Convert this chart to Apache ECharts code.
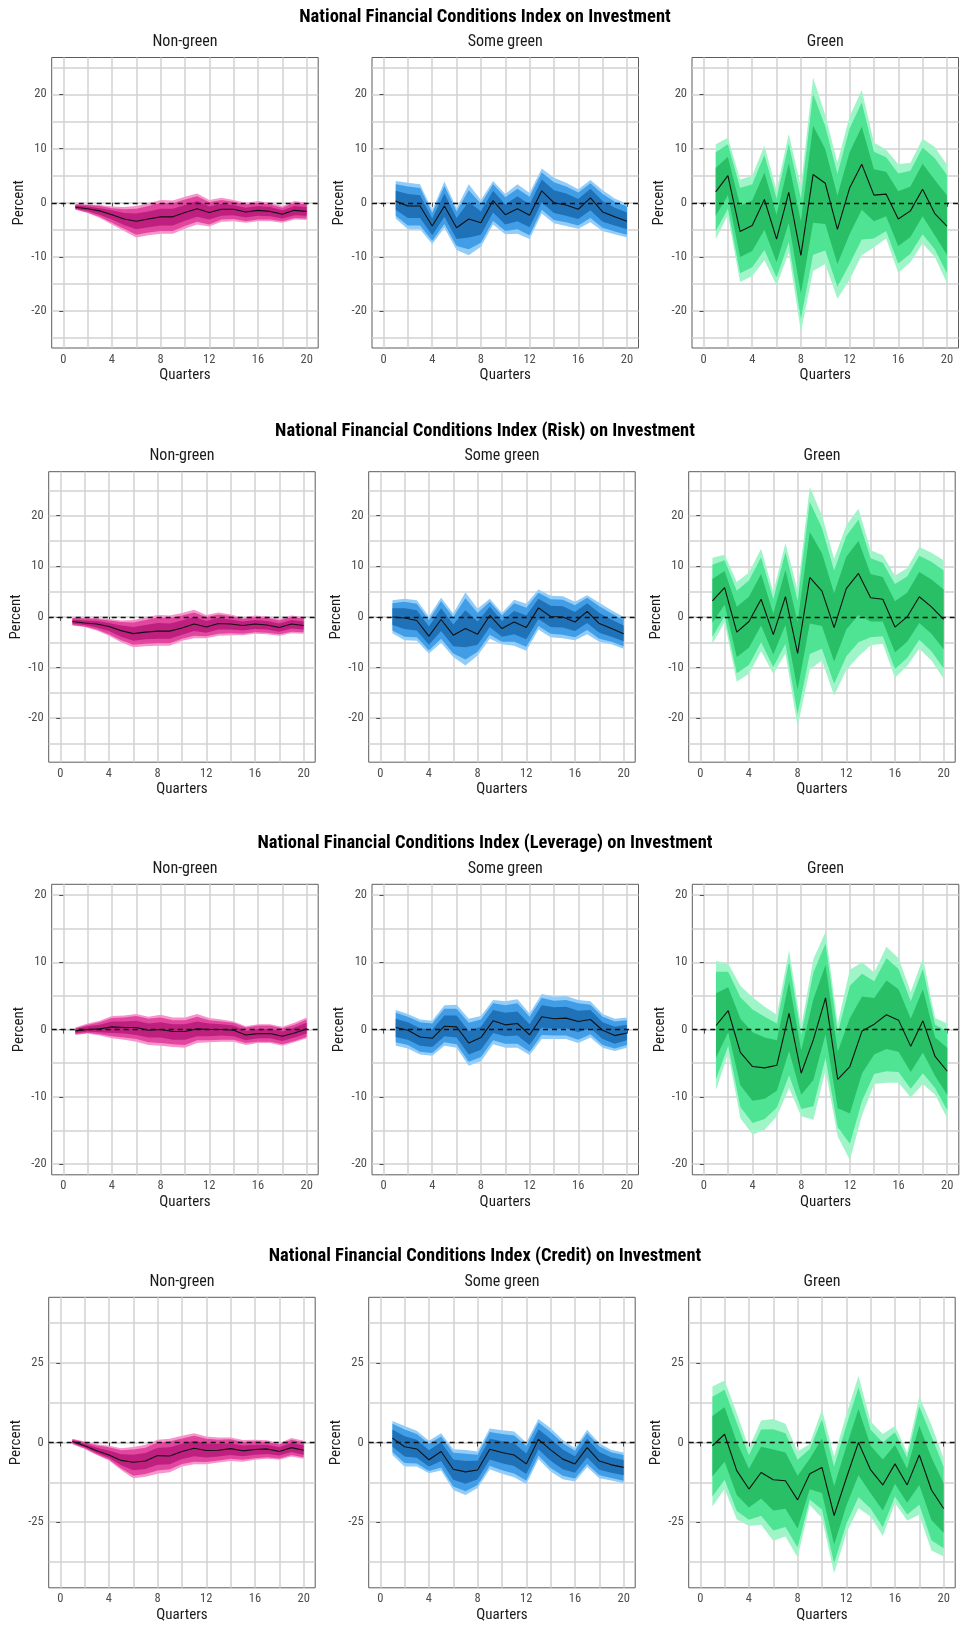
<!DOCTYPE html>
<html>
<head>
<meta charset="utf-8">
<title>NFCI on Investment</title>
<script src="https://cdn.jsdelivr.net/npm/echarts@6.0.0/dist/echarts.min.js"></script>
<style>
  html, body { margin: 0; padding: 0; background: #fff; }
  #main { width: 965px; height: 1625px; }
</style>
</head>
<body>
<div id="main"></div>
<script>
// ---- data ----
const quarters = [1, 2, 3, 4, 5, 6, 7, 8, 9, 10, 11, 12, 13, 14, 15, 16, 17, 18, 19, 20];
const xTicks = [0, 4, 8, 12, 16, 20];
const xGridLines = [0, 2, 4, 6, 8, 10, 12, 14, 16, 18, 20];
const rowTitles = [
  'National Financial Conditions Index on Investment',
  'National Financial Conditions Index (Risk) on Investment',
  'National Financial Conditions Index (Leverage) on Investment',
  'National Financial Conditions Index (Credit) on Investment'
];
const groupNames = ['Non-green', 'Some green', 'Green'];
const yTicksByRow = [[-20, -10, 0, 10, 20], [-20, -10, 0, 10, 20], [-20, -10, 0, 10, 20], [-25, 0, 25]];
const yGridByRow = [
  [-25, -20, -15, -10, -5, 0, 5, 10, 15, 20, 25],
  [-25, -20, -15, -10, -5, 0, 5, 10, 15, 20, 25],
  [-20, -15, -10, -5, 0, 5, 10, 15, 20],
  [-37.5, -25, -12.5, 0, 12.5, 25, 37.5]
];
const yLimitByRow = [26.8, 28.7, 21.6, 45.6];

// NFCI
const nfciNgMed  = [-0.8,-1.1,-1.5,-2.2,-3.0,-3.4,-3.0,-2.6,-2.6,-1.8,-1.1,-1.8,-1.2,-1.2,-1.7,-1.4,-1.6,-2.1,-1.4,-1.6];
const nfciNgLo95 = [-1.3,-1.9,-2.8,-4.0,-5.2,-6.4,-6.0,-5.7,-5.7,-4.8,-4.0,-4.4,-3.5,-3.4,-3.7,-3.4,-3.4,-3.7,-3.1,-3.2];
const nfciNgHi95 = [-0.2,-0.3,-0.4,-0.7,-0.8,-0.6,-0.1,0.5,0.4,1.1,1.7,0.5,0.9,0.5,0.0,0.3,0.0,-0.6,0.3,0.0];
const nfciNgLo90 = [-1.2,-1.8,-2.6,-3.7,-4.8,-5.9,-5.5,-5.2,-5.2,-4.3,-3.5,-4.0,-3.1,-3.0,-3.4,-3.1,-3.1,-3.4,-2.8,-2.9];
const nfciNgHi90 = [-0.3,-0.4,-0.6,-1.0,-1.2,-1.1,-0.6,0.0,-0.1,0.6,1.2,0.1,0.5,0.2,-0.3,0.0,-0.3,-0.9,0.0,-0.3];
const nfciNgLo68 = [-1.1,-1.5,-2.2,-3.1,-4.1,-4.9,-4.5,-4.2,-4.2,-3.3,-2.6,-3.1,-2.4,-2.3,-2.7,-2.4,-2.5,-2.9,-2.3,-2.4];
const nfciNgHi68 = [-0.5,-0.7,-1.0,-1.4,-1.9,-2.0,-1.6,-1.1,-1.1,-0.4,0.3,-0.7,-0.2,-0.4,-0.9,-0.6,-0.8,-1.4,-0.6,-0.8];

const nfciSgMed  = [0.3,-0.6,-0.6,-4.3,-0.6,-4.6,-3.0,-3.7,0.4,-2.2,-1.1,-2.3,2.2,0.0,-0.4,-1.2,0.9,-1.7,-2.6,-3.4];
const nfciSgLo95 = [-2.9,-4.9,-4.9,-7.6,-4.6,-8.7,-9.7,-8.1,-4.0,-5.8,-5.7,-6.7,-2.0,-3.8,-4.3,-4.8,-3.6,-5.2,-5.8,-6.4];
const nfciSgHi95 = [4.0,3.7,3.4,-1.4,3.9,-1.0,3.4,0.5,4.0,1.6,3.4,1.8,6.3,4.6,3.7,2.5,4.2,2.3,0.8,-0.2];
const nfciSgLo90 = [-2.4,-4.2,-4.2,-7.0,-3.9,-8.0,-8.6,-7.4,-3.3,-5.2,-4.9,-6.0,-1.3,-3.2,-3.6,-4.2,-2.8,-4.6,-5.3,-5.9];
const nfciSgHi90 = [3.4,3.0,2.7,-1.9,3.1,-1.6,2.3,-0.2,3.4,1.0,2.6,1.1,5.6,3.8,3.0,1.9,3.6,1.6,0.2,-0.7];
const nfciSgLo68 = [-1.3,-2.8,-2.8,-6.0,-2.6,-6.7,-6.4,-5.9,-1.8,-4.0,-3.4,-4.5,0.1,-1.9,-2.4,-3.0,-1.4,-3.5,-4.2,-4.9];
const nfciSgHi68 = [2.2,1.6,1.4,-2.9,1.7,-2.8,0.2,-1.6,2.2,-0.3,1.2,-0.3,4.3,2.3,1.7,0.7,2.6,0.3,-0.9,-1.8];

const nfciGrMed  = [2.0,5.0,-5.3,-4.2,0.6,-6.7,1.9,-9.7,5.2,3.6,-4.9,2.7,7.1,1.4,1.6,-3.0,-1.5,2.5,-2.0,-4.3];
const nfciGrLo95 = [-6.7,-2.3,-14.6,-13.5,-10.6,-15.2,-9.2,-23.8,-12.6,-11.3,-17.7,-14.2,-9.7,-8.2,-6.6,-12.9,-11.0,-7.5,-10.0,-14.8];
const nfciGrHi95 = [10.8,12.0,4.3,5.0,10.5,2.3,12.7,3.0,23.1,16.2,7.4,15.9,20.8,11.1,9.8,7.1,7.4,11.8,10.3,7.0];
const nfciGrLo90 = [-5.2,-1.1,-13.0,-11.9,-8.7,-13.8,-7.3,-21.4,-9.6,-8.8,-15.5,-11.3,-6.8,-6.6,-5.2,-11.2,-9.4,-5.8,-8.6,-13.0];
const nfciGrHi90 = [9.3,10.8,2.7,3.4,8.8,0.8,10.9,0.8,20.1,14.1,5.3,13.7,18.5,9.4,8.4,5.4,5.9,10.2,8.2,5.1];
const nfciGrLo68 = [-2.4,1.4,-10.0,-8.9,-5.0,-11.0,-3.7,-16.8,-3.7,-3.9,-11.3,-5.8,-1.3,-3.4,-2.5,-8.0,-6.3,-2.5,-6.0,-9.6];
const nfciGrHi68 = [6.4,8.5,-0.5,0.4,5.6,-2.2,7.3,-3.4,14.2,9.9,1.3,9.3,14.0,6.2,5.7,2.1,3.0,7.2,4.2,1.4];

// NFCI (Risk)
const riskNgMed  = [-0.9,-1.2,-1.4,-1.9,-2.7,-3.3,-3.0,-2.8,-2.8,-2.2,-1.4,-2.0,-1.3,-1.4,-1.7,-1.4,-1.6,-2.1,-1.4,-1.7];
const riskNgLo95 = [-1.7,-2.0,-2.7,-3.7,-5.0,-6.0,-5.8,-5.7,-5.7,-4.7,-4.2,-4.2,-3.7,-3.6,-3.6,-3.3,-3.4,-3.7,-3.2,-3.3];
const riskNgHi95 = [-0.1,-0.1,-0.2,-0.4,-0.7,-0.6,-0.1,0.4,0.3,0.8,1.4,0.4,0.9,0.5,-0.1,0.3,0.1,-0.4,0.3,0.0];
const riskNgLo90 = [-1.6,-1.9,-2.5,-3.4,-4.6,-5.5,-5.3,-5.2,-5.2,-4.3,-3.7,-3.8,-3.3,-3.2,-3.3,-3.0,-3.1,-3.4,-2.9,-3.0];
const riskNgHi90 = [-0.2,-0.3,-0.4,-0.7,-1.0,-1.1,-0.6,-0.1,-0.2,0.3,0.9,0.0,0.5,0.2,-0.4,0.0,-0.2,-0.7,0.0,-0.3];
const riskNgLo68 = [-1.3,-1.6,-2.1,-2.8,-3.9,-4.7,-4.4,-4.3,-4.3,-3.5,-2.8,-3.1,-2.5,-2.5,-2.7,-2.4,-2.5,-2.9,-2.3,-2.5];
const riskNgHi68 = [-0.5,-0.7,-0.8,-1.2,-1.7,-2.0,-1.6,-1.2,-1.3,-0.7,0.0,-0.8,-0.2,-0.5,-0.9,-0.6,-0.8,-1.3,-0.6,-0.9];

const riskSgMed  = [0.0,-0.2,-0.7,-3.8,-0.5,-3.6,-2.3,-3.4,0.3,-2.3,-1.0,-2.1,1.8,0.1,0.0,-1.0,1.1,-1.3,-2.3,-3.3];
const riskSgLo95 = [-3.2,-4.6,-4.7,-7.2,-5.1,-7.9,-9.6,-7.6,-4.3,-5.4,-5.7,-6.7,-2.5,-4.0,-4.2,-4.6,-3.4,-4.9,-5.4,-6.3];
const riskSgHi95 = [3.3,3.6,3.3,0.1,3.8,0.7,4.9,1.6,3.6,0.8,3.4,2.6,5.4,4.2,4.1,3.0,4.3,2.8,1.3,0.0];
const riskSgLo90 = [-2.7,-3.9,-4.0,-6.6,-4.3,-7.2,-8.4,-6.9,-3.5,-4.9,-4.9,-5.9,-1.8,-3.3,-3.5,-4.0,-2.6,-4.3,-4.9,-5.8];
const riskSgHi90 = [2.7,3.0,2.6,-0.6,3.1,0.0,3.7,0.8,3.0,0.3,2.7,1.8,4.8,3.5,3.4,2.3,3.8,2.1,0.7,-0.6];
const riskSgLo68 = [-1.6,-2.4,-2.7,-5.5,-2.8,-5.8,-6.0,-5.5,-2.0,-3.9,-3.4,-4.4,-0.4,-2.0,-2.1,-2.8,-1.2,-3.1,-3.9,-4.8];
const riskSgHi68 = [1.7,1.7,1.3,-1.9,1.7,-1.5,1.3,-0.9,2.0,-0.8,1.2,0.3,3.6,2.2,2.1,1.0,2.7,0.8,-0.5,-1.7];

const riskGrMed  = [3.2,5.8,-3.0,-0.9,3.5,-3.5,4.0,-7.2,7.8,5.1,-2.1,5.6,8.6,3.8,3.5,-2.0,0.0,4.0,2.0,-0.5];
const riskGrLo95 = [-5.3,-1.0,-12.8,-11.2,-6.8,-11.2,-7.2,-21.6,-10.4,-8.6,-15.5,-10.5,-7.8,-5.6,-5.3,-12.0,-9.7,-6.3,-8.6,-12.2];
const riskGrHi95 = [11.7,12.3,6.9,8.8,13.5,4.9,14.6,5.3,25.7,20.1,11.5,18.1,21.4,13.2,12.2,8.2,9.6,13.8,12.7,11.2];
const riskGrLo90 = [-3.9,0.2,-11.1,-9.5,-5.0,-9.9,-5.3,-19.2,-7.3,-6.3,-13.2,-7.8,-5.0,-4.0,-3.8,-10.3,-8.1,-4.5,-6.8,-10.2];
const riskGrHi90 = [10.3,11.2,5.2,7.2,11.8,3.5,12.8,3.2,22.7,17.6,9.2,16.0,19.2,11.6,10.7,6.5,8.0,12.1,10.9,9.2];
const riskGrLo68 = [-1.1,2.4,-7.9,-6.1,-1.7,-7.4,-1.6,-14.4,-1.3,-1.8,-8.8,-2.5,0.4,-0.9,-0.9,-7.0,-4.9,-1.2,-3.3,-6.4];
const riskGrHi68 = [7.5,9.1,2.0,4.0,8.5,0.7,9.3,-1.0,16.8,12.6,4.7,11.9,15.0,8.5,7.9,3.1,4.8,8.9,7.4,5.4];

// NFCI (Leverage)
const levNgMed  = [-0.2,0.0,0.1,0.4,0.3,0.3,-0.1,0.0,-0.3,-0.3,0.1,0.0,0.0,-0.1,-0.8,-0.6,-0.6,-1.0,-0.5,0.1];
const levNgLo95 = [-0.8,-0.6,-0.9,-1.3,-1.5,-1.8,-2.3,-2.4,-2.6,-2.7,-2.0,-1.9,-1.8,-1.8,-2.3,-2.0,-2.0,-2.4,-1.9,-1.3];
const levNgHi95 = [0.3,0.9,1.3,2.0,2.1,2.3,1.9,2.2,1.8,1.8,2.3,1.7,1.5,1.2,0.5,0.8,0.8,0.4,1.0,1.8];
const levNgLo90 = [-0.7,-0.5,-0.7,-1.0,-1.2,-1.4,-1.9,-2.0,-2.2,-2.3,-1.6,-1.6,-1.5,-1.5,-2.0,-1.8,-1.8,-2.2,-1.7,-1.1];
const levNgHi90 = [0.2,0.7,1.1,1.7,1.8,2.0,1.6,1.8,1.4,1.4,1.9,1.4,1.2,1.0,0.3,0.6,0.6,0.2,0.7,1.5];
const levNgLo68 = [-0.5,-0.3,-0.4,-0.5,-0.6,-0.8,-1.2,-1.2,-1.5,-1.5,-1.0,-1.0,-0.9,-1.0,-1.6,-1.3,-1.3,-1.7,-1.2,-0.6];
const levNgHi68 = [0.1,0.5,0.7,1.2,1.2,1.3,0.9,1.1,0.8,0.8,1.2,0.9,0.8,0.6,-0.2,0.1,0.1,-0.3,0.3,1.0];

const levSgMed  = [0.3,-0.1,-1.1,-1.3,0.5,0.4,-2.0,-1.2,1.3,0.7,0.9,-0.8,1.9,1.6,1.7,1.2,1.5,-0.1,-0.9,-0.5];
const levSgLo95 = [-2.4,-2.8,-3.7,-3.9,-2.4,-2.7,-5.4,-4.7,-2.2,-2.7,-2.7,-3.8,-1.4,-1.4,-1.4,-2.0,-1.2,-2.7,-3.2,-2.7];
const levSgHi95 = [2.9,2.3,1.5,1.3,3.6,3.7,1.6,2.0,4.4,4.2,4.5,2.4,5.3,4.9,5.0,4.4,4.2,2.3,1.6,1.8];
const levSgLo90 = [-1.9,-2.3,-3.3,-3.5,-1.9,-2.2,-4.8,-4.1,-1.6,-2.1,-2.1,-3.3,-0.8,-0.9,-0.9,-1.5,-0.7,-2.3,-2.8,-2.3];
const levSgHi90 = [2.5,1.9,1.1,0.9,3.1,3.1,1.0,1.5,3.9,3.6,3.9,1.9,4.7,4.3,4.4,3.9,3.7,1.9,1.2,1.4];
const levSgLo68 = [-1.1,-1.5,-2.4,-2.6,-1.0,-1.2,-3.7,-3.0,-0.5,-1.0,-0.9,-2.3,0.3,0.1,0.2,-0.4,0.2,-1.4,-2.1,-1.6];
const levSgHi68 = [1.6,1.1,0.2,0.0,2.1,2.1,-0.2,0.4,2.9,2.5,2.7,0.8,3.6,3.3,3.4,2.8,2.9,1.1,0.4,0.7];

const levGrMed  = [0.6,2.8,-3.4,-5.5,-5.7,-5.3,2.4,-6.5,-1.5,4.7,-7.4,-5.5,-0.2,0.8,2.2,1.4,-2.5,1.3,-4.0,-6.2];
const levGrLo95 = [-9.0,-3.5,-13.2,-15.6,-14.9,-12.9,-8.7,-12.9,-13.4,-6.0,-15.9,-19.4,-12.7,-8.1,-7.9,-7.9,-10.1,-8.1,-9.7,-13.2];
const levGrHi95 = [10.2,9.8,6.5,4.8,3.4,2.2,11.8,0.4,10.5,14.5,0.9,8.9,10.0,8.5,12.3,10.6,5.6,10.6,1.7,0.9];
const levGrLo90 = [-7.4,-2.4,-11.5,-13.9,-13.3,-11.6,-6.8,-11.8,-11.4,-4.2,-14.5,-17.0,-10.6,-6.6,-6.2,-6.3,-8.8,-6.5,-8.7,-12.0];
const levGrHi90 = [8.6,8.6,4.8,3.0,1.9,0.9,10.2,-0.8,8.5,12.8,-0.5,6.5,8.3,7.2,10.6,9.0,4.2,9.0,0.7,-0.3];
const levGrLo68 = [-4.2,-0.4,-8.3,-10.6,-10.3,-9.1,-3.2,-9.7,-7.5,-0.7,-11.7,-12.5,-6.5,-3.7,-2.9,-3.3,-6.3,-3.4,-6.9,-9.7];
const levGrHi68 = [5.4,6.3,1.6,-0.4,-1.2,-1.6,7.1,-3.1,4.5,9.6,-3.3,1.7,4.9,4.7,7.3,6.0,1.6,6.0,-1.2,-2.7];

// NFCI (Credit)
const credNgMed  = [0.3,-1.0,-2.6,-3.9,-5.6,-6.2,-5.8,-4.1,-4.2,-2.8,-1.8,-2.5,-2.4,-1.9,-2.6,-2.2,-2.0,-2.8,-1.6,-2.4];
const credNgLo95 = [-0.5,-2.0,-3.9,-5.6,-8.6,-11.2,-10.7,-9.8,-9.3,-7.5,-6.8,-6.8,-6.3,-5.8,-6.0,-5.4,-5.1,-5.4,-4.4,-5.1];
const credNgHi95 = [1.2,0.3,-0.5,-1.0,-1.8,-1.4,-0.7,0.9,1.2,2.1,2.9,1.9,1.6,1.6,0.8,0.9,0.7,-0.2,1.4,0.6];
const credNgLo90 = [-0.4,-1.8,-3.7,-5.3,-8.1,-10.4,-9.9,-8.8,-8.4,-6.7,-6.0,-6.1,-5.6,-5.1,-5.4,-4.9,-4.6,-5.0,-3.9,-4.6];
const credNgHi90 = [1.0,0.1,-0.9,-1.5,-2.4,-2.2,-1.6,0.0,0.3,1.3,2.1,1.2,0.9,1.0,0.2,0.4,0.2,-0.6,0.9,0.1];
const credNgLo68 = [-0.1,-1.5,-3.3,-4.8,-7.1,-8.7,-8.3,-7.0,-6.8,-5.2,-4.3,-4.7,-4.4,-3.9,-4.3,-3.8,-3.6,-4.1,-3.0,-3.8];
const credNgHi68 = [0.7,-0.4,-1.6,-2.5,-3.7,-3.8,-3.3,-1.6,-1.5,-0.4,0.6,-0.3,-0.4,-0.2,-0.9,-0.7,-0.7,-1.5,-0.1,-0.9];

const credSgMed  = [1.4,-1.3,-2.0,-5.4,-2.8,-8.4,-9.2,-8.6,-2.1,-3.1,-3.9,-6.7,1.0,-2.3,-5.2,-6.7,-1.6,-5.8,-7.0,-7.8];
const credSgLo95 = [-3.9,-7.5,-7.5,-9.6,-8.8,-14.9,-16.5,-14.3,-8.4,-9.8,-10.9,-13.0,-5.2,-9.1,-11.5,-12.2,-7.7,-11.2,-11.9,-12.8];
const credSgHi95 = [6.8,5.2,3.7,0.6,2.9,-2.1,-2.3,-2.8,4.4,3.9,3.5,0.0,7.4,4.5,0.8,-1.8,4.0,-0.2,-2.3,-3.1];
const credSgLo90 = [-3.0,-6.4,-6.6,-8.9,-7.8,-13.8,-15.3,-13.3,-7.3,-8.7,-9.7,-11.9,-4.1,-8.0,-10.4,-11.3,-6.7,-10.3,-11.1,-12.0];
const credSgHi90 = [5.9,4.1,2.7,-0.4,1.9,-3.2,-3.5,-3.8,3.3,2.7,2.2,-1.1,6.3,3.3,-0.2,-2.6,3.0,-1.2,-3.1,-3.9];
const credSgLo68 = [-1.3,-4.4,-4.8,-7.5,-5.8,-11.7,-12.9,-11.5,-5.3,-6.5,-7.4,-9.9,-2.1,-5.7,-8.4,-9.5,-4.7,-8.5,-9.5,-10.3];
const credSgHi68 = [4.1,2.0,0.9,-2.4,0.1,-5.3,-5.8,-5.7,1.2,0.4,-0.2,-3.4,4.2,1.1,-2.2,-4.3,1.2,-3.0,-4.7,-5.5];

const credGrMed  = [-1.0,2.6,-8.8,-14.6,-9.4,-11.7,-12.0,-18.0,-9.8,-7.8,-22.9,-11.2,0.0,-8.6,-13.3,-6.7,-13.3,-3.9,-14.9,-20.7];
const credGrLo95 = [-20.1,-14.6,-24.1,-26.2,-25.8,-30.8,-29.5,-36.0,-19.6,-23.7,-41.0,-28.5,-20.6,-23.2,-29.3,-19.0,-24.5,-22.7,-33.9,-35.8];
const credGrHi95 = [17.6,19.5,9.2,-1.8,6.9,7.4,5.9,-2.8,-0.4,10.3,-4.4,8.7,20.9,6.6,2.7,5.2,-3.1,14.4,5.5,-4.9];
const credGrLo90 = [-16.9,-11.7,-21.5,-24.2,-23.0,-27.6,-26.5,-32.9,-17.9,-21.0,-37.9,-25.6,-17.1,-20.7,-26.6,-16.9,-22.6,-19.5,-30.7,-33.2];
const credGrHi90 = [14.4,16.6,6.1,-4.0,4.1,4.2,2.9,-5.4,-2.0,7.2,-7.5,5.3,17.3,4.0,0.0,3.2,-4.8,11.3,2.0,-7.6];
const credGrLo68 = [-10.6,-6.0,-16.5,-20.4,-17.6,-21.3,-20.8,-27.0,-14.7,-15.8,-32.0,-19.9,-10.3,-15.9,-21.3,-12.9,-18.9,-13.3,-24.4,-28.3];
const credGrHi68 = [8.3,11.1,0.2,-8.2,-1.3,-2.2,-3.1,-10.4,-5.1,1.3,-13.7,-1.3,10.5,-1.0,-5.3,-0.8,-8.2,5.3,-4.7,-12.8];

// ---- panel table (row, col) ----
const panels = [
  [0, 0, nfciNgMed, [[nfciNgLo95, nfciNgHi95], [nfciNgLo90, nfciNgHi90], [nfciNgLo68, nfciNgHi68]]],
  [0, 1, nfciSgMed, [[nfciSgLo95, nfciSgHi95], [nfciSgLo90, nfciSgHi90], [nfciSgLo68, nfciSgHi68]]],
  [0, 2, nfciGrMed, [[nfciGrLo95, nfciGrHi95], [nfciGrLo90, nfciGrHi90], [nfciGrLo68, nfciGrHi68]]],
  [1, 0, riskNgMed, [[riskNgLo95, riskNgHi95], [riskNgLo90, riskNgHi90], [riskNgLo68, riskNgHi68]]],
  [1, 1, riskSgMed, [[riskSgLo95, riskSgHi95], [riskSgLo90, riskSgHi90], [riskSgLo68, riskSgHi68]]],
  [1, 2, riskGrMed, [[riskGrLo95, riskGrHi95], [riskGrLo90, riskGrHi90], [riskGrLo68, riskGrHi68]]],
  [2, 0, levNgMed, [[levNgLo95, levNgHi95], [levNgLo90, levNgHi90], [levNgLo68, levNgHi68]]],
  [2, 1, levSgMed, [[levSgLo95, levSgHi95], [levSgLo90, levSgHi90], [levSgLo68, levSgHi68]]],
  [2, 2, levGrMed, [[levGrLo95, levGrHi95], [levGrLo90, levGrHi90], [levGrLo68, levGrHi68]]],
  [3, 0, credNgMed, [[credNgLo95, credNgHi95], [credNgLo90, credNgHi90], [credNgLo68, credNgHi68]]],
  [3, 1, credSgMed, [[credSgLo95, credSgHi95], [credSgLo90, credSgHi90], [credSgLo68, credSgHi68]]],
  [3, 2, credGrMed, [[credGrLo95, credGrHi95], [credGrLo90, credGrHi90], [credGrLo68, credGrHi68]]]
];

// ---- layout & style ----
const FONT = "'Liberation Sans Narrow', 'Roboto Condensed', 'DejaVu Sans Condensed', Roboto, sans-serif";
const rowTop = [57.5, 471.7, 884.3, 1297.3];
const colLeft = [[51.7, 372, 692], [48.7, 368.7, 688.7], [51.7, 372, 692.3], [48.7, 368.7, 688.7]];
const PW = 266.5, PH = 290.5;
const GRID_LINE = { color: '#d2d2d2', width: 1.5 };
// outer (95) -> middle (90) -> inner (68)
const bandColors = [
  ['#f794cc', '#e2479f', '#bf1f7f'],
  ['#92ccf8', '#419de6', '#1f71b8'],
  ['#a0f5c8', '#4fe394', '#28bf66']
];

const chart = echarts.init(document.getElementById('main'), null, { renderer: 'canvas' });

const grids = [], xAxes = [], yAxes = [], series = [], texts = [];

rowTitles.forEach((t, r) => {
  texts.push({
    type: 'text', x: 485, y: rowTop[r] - 40.5,
    style: { text: t, align: 'center', verticalAlign: 'middle', fontFamily: FONT, fontSize: 18.5, fontWeight: 'bold', fill: '#000' }
  });
});

// polygon between lo and hi, built from the library's coordinate mapping
function bandRenderer(color) {
  return function (params, api) {
    if (params.dataIndexInside !== 0) return null;
    const n = params.dataInsideLength;
    const upper = [], lower = [];
    for (let i = 0; i < n; i++) {
      upper.push(api.coord([api.value(0, i), api.value(2, i)]));
      lower.push(api.coord([api.value(0, i), api.value(1, i)]));
    }
    return {
      type: 'polygon',
      shape: { points: upper.concat(lower.reverse()) },
      style: { fill: color }
    };
  };
}

panels.forEach(([r, c, med, bands], p) => {
  const left = colLeft[r][c];
  const lim = yLimitByRow[r];
  grids.push({
    left: left, top: rowTop[r], width: PW, height: PH,
    show: true, backgroundColor: '#fff', borderColor: '#5c5c5c', borderWidth: 1
  });
  texts.push({
    type: 'text', x: left + PW / 2, y: rowTop[r] - 15.8,
    style: { text: groupNames[c], align: 'center', verticalAlign: 'middle', fontFamily: FONT, fontSize: 16, fill: '#1a1a1a' }
  });

  // axis 2p: grid lines only; axis 2p+1: ticks, labels, title
  xAxes.push({
    gridIndex: p, type: 'value', min: -0.95, max: 20.95, position: 'top',
    axisLine: { show: false }, axisLabel: { show: false },
    axisTick: { show: false, customValues: xGridLines },
    splitLine: { show: true, lineStyle: GRID_LINE }
  });
  xAxes.push({
    gridIndex: p, type: 'value', min: -0.95, max: 20.95, position: 'bottom',
    axisLine: { show: false },
    axisTick: { show: true, length: 4, customValues: xTicks, lineStyle: { color: '#4d4d4d' } },
    axisLabel: { customValues: xTicks, color: '#4d4d4d', fontSize: 12.5, fontFamily: FONT, margin: 5 },
    splitLine: { show: false },
    name: 'Quarters', nameLocation: 'middle', nameGap: 20,
    nameTextStyle: { color: '#1a1a1a', fontSize: 15, fontFamily: FONT }
  });
  yAxes.push({
    gridIndex: p, type: 'value', min: -lim, max: lim, position: 'right',
    axisLine: { show: false }, axisLabel: { show: false },
    axisTick: { show: false, customValues: yGridByRow[r] },
    splitLine: { show: true, lineStyle: GRID_LINE }
  });
  yAxes.push({
    gridIndex: p, type: 'value', min: -lim, max: lim, position: 'left',
    axisLine: { show: false },
    axisTick: { show: true, length: 4, customValues: yTicksByRow[r], lineStyle: { color: '#4d4d4d' } },
    axisLabel: { customValues: yTicksByRow[r], color: '#4d4d4d', fontSize: 12.5, fontFamily: FONT, margin: 5 },
    splitLine: { show: false },
    name: 'Percent', nameLocation: 'middle', nameGap: 25, nameRotate: 90,
    nameTextStyle: { color: '#1a1a1a', fontSize: 15, fontFamily: FONT }
  });

  const xi = 2 * p + 1, yi = 2 * p + 1;
  bands.forEach(([lo, hi], b) => {
    series.push({
      type: 'custom', xAxisIndex: xi, yAxisIndex: yi, silent: true, z: 2 + b,
      data: quarters.map((q, i) => [q, lo[i], hi[i]]),
      encode: { x: 0, y: [1, 2] },
      renderItem: bandRenderer(bandColors[c][b])
    });
  });

  series.push({
    type: 'line', xAxisIndex: xi, yAxisIndex: yi,
    data: quarters.map((q, i) => [q, med[i]]),
    symbol: 'none', silent: true, z: 10,
    lineStyle: { color: '#111', width: 1.1 },
    markLine: {
      silent: true, symbol: ['none', 'none'], label: { show: false },
      lineStyle: { color: '#111', type: [5, 4], width: 1.3 },
      data: [{ yAxis: 0 }]
    }
  });
});

chart.setOption({
  animation: false,
  backgroundColor: '#fff',
  grid: grids,
  xAxis: xAxes,
  yAxis: yAxes,
  series: series,
  graphic: { elements: texts }
});
</script>
</body>
</html>
